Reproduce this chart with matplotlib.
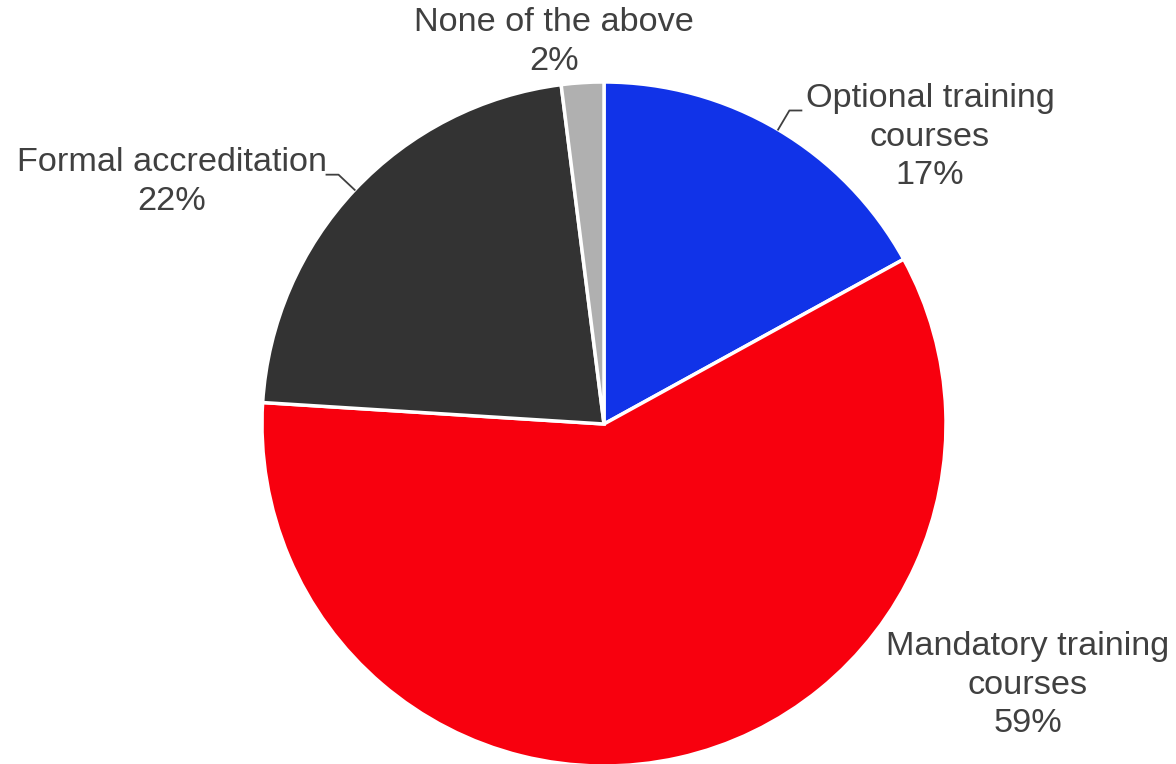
import numpy as np
import matplotlib.pyplot as plt

# data
labels = ["Optional training\ncourses", "Mandatory training\ncourses",
          "Formal accreditation", "None of the above"]
shares = [17, 59, 22, 2]
colors = ["#1133E8", "#F8000E", "#333333", "#B0B0B0"]

# layout (pixel space, y up)
W, H = 1176, 764
center = (604, H - 424)
radius = 342
label_pos = [(930, H - 137), (1028, H - 685), (172, H - 182), (554, H - 42)]
leader = [True, False, True, False]

plt.rcParams["font.family"] = ["Liberation Sans", "DejaVu Sans"]

fig = plt.figure(figsize=(W / 100, H / 100), dpi=100)
ax = fig.add_axes([0, 0, 1, 1])

wedges, _ = ax.pie(shares, colors=colors, startangle=90, counterclock=False,
                   center=center, radius=radius,
                   wedgeprops=dict(edgecolor="white", linewidth=2.5))
ax.set_xlim(0, W)
ax.set_ylim(0, H)
ax.set_aspect("equal")
ax.axis("off")

for w, lab, val, pos, has_line in zip(wedges, labels, shares, label_pos, leader):
    ax.text(pos[0], pos[1], f"{lab}\n{val}%", ha="center", va="center",
            fontsize=24.7, color="#404040", linespacing=1.3)
    if has_line:
        mid = np.deg2rad((w.theta1 + w.theta2) / 2)
        x0 = center[0] + radius * np.cos(mid)
        y0 = center[1] + radius * np.sin(mid)
        x1 = center[0] + radius * 1.065 * np.cos(mid)
        y1 = center[1] + radius * 1.065 * np.sin(mid)
        x2 = x1 + 12 * np.sign(np.cos(mid))
        ax.plot([x0, x1, x2], [y0, y1, y1], color="#404040", lw=1.3)

fig.savefig("out.png", dpi=100)
